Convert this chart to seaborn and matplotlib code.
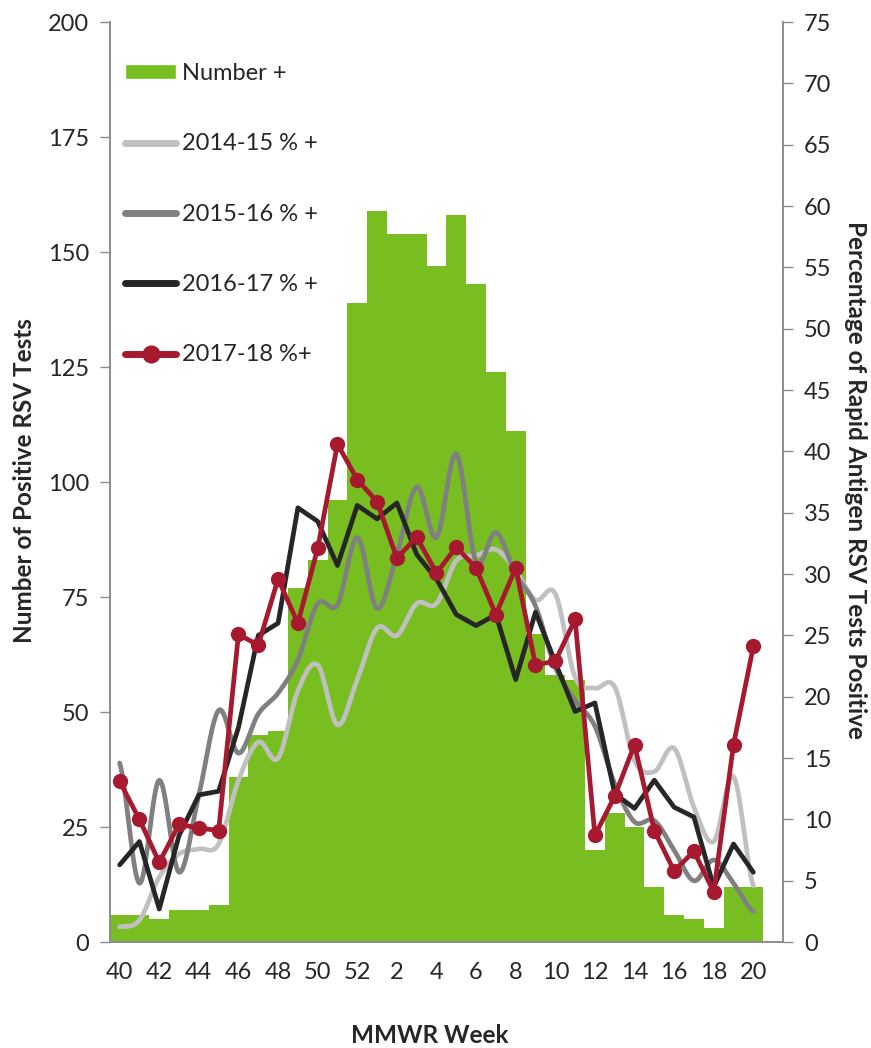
import numpy as np
import matplotlib
matplotlib.use("Agg")
import matplotlib.pyplot as plt
import matplotlib.patches as mpatches
from matplotlib.lines import Line2D
import seaborn as sns

# MMWR weeks 40-52, then 1-20
weeks = [str(w) for w in range(40, 53)] + [str(w) for w in range(1, 21)]

number_pos = [6, 6, 5, 7, 7, 8, 36, 45, 46, 77, 83, 96, 139,
              159, 154, 154, 147, 158, 143, 124, 111, 67, 58, 57, 20,
              28, 25, 12, 6, 5, 3, 12, 12]

pct_1415 = [1.25, 1.8, 5.3, 7.2, 7.6, 8.0, 13.2, 16.3, 15.0, 20.5, 22.6, 17.7, 21.4,
            25.6, 25.0, 27.6, 27.6, 31.1, 31.5, 32.0, 30.3, 27.9, 28.4, 21.6, 20.7,
            20.8, 14.8, 13.9, 15.8, 11.0, 8.2, 13.5, 4.6]

pct_1516 = [14.6, 4.8, 13.2, 5.7, 12.0, 18.9, 15.4, 18.6, 20.3, 23.0, 27.6, 27.5, 33.0,
            27.2, 31.6, 37.1, 33.0, 39.8, 31.0, 33.4, 30.0, 27.4, 22.4, 19.7, 17.6,
            12.9, 9.8, 9.9, 7.5, 5.0, 6.7, 4.8, 2.5]

pct_1617 = [6.3, 8.2, 2.7, 8.7, 12.0, 12.3, 17.5, 25.0, 26.0, 35.4, 34.3, 30.7, 35.6,
            34.5, 35.8, 31.6, 29.6, 26.7, 25.8, 26.7, 21.4, 26.9, 22.8, 18.8, 19.5,
            12.1, 10.9, 13.2, 11.0, 10.2, 4.5, 8.0, 5.7]

pct_1718 = [13.1, 10.0, 6.5, 9.6, 9.3, 9.1, 25.1, 24.2, 29.6, 26.0, 32.1, 40.6, 37.7,
            35.9, 31.3, 33.0, 30.1, 32.2, 30.5, 26.7, 30.5, 22.6, 22.9, 26.3, 8.7,
            11.9, 16.1, 9.1, 5.8, 7.4, 4.1, 16.1, 24.1]

GREEN = "#78BE21"
RED = "#A6192E"
BLACK = "#262626"
GRAY = "#808080"
LIGHT = "#C0C0C0"
AXIS = "#8C8C8C"


def smooth(y, n=16):
    """Catmull-Rom curve through the points (like Excel's smoothed line)."""
    y = np.asarray(y, dtype=float)
    x = np.arange(len(y), dtype=float)
    yp = np.concatenate([[y[0]], y, [y[-1]]])
    xp = np.concatenate([[x[0] - 1], x, [x[-1] + 1]])
    xs, ys = [], []
    t = np.linspace(0, 1, n, endpoint=False)
    for i in range(len(y) - 1):
        for arr, out in ((xp, xs), (yp, ys)):
            p0, p1, p2, p3 = arr[i], arr[i + 1], arr[i + 2], arr[i + 3]
            out.extend(0.5 * (2 * p1 + (-p0 + p2) * t
                              + (2 * p0 - 5 * p1 + 4 * p2 - p3) * t ** 2
                              + (-p0 + 3 * p1 - 3 * p2 + p3) * t ** 3))
    xs.append(x[-1])
    ys.append(y[-1])
    return np.array(xs), np.array(ys)


sns.set_style("white")
plt.rcParams["font.family"] = ["Lato", "DejaVu Sans"]

fig = plt.figure(figsize=(8.71, 10.48), dpi=100)
ax = fig.add_axes([0.126, 0.101, 0.773, 0.878])

pos = np.arange(len(weeks))
sns.barplot(x=pos, y=number_pos, native_scale=True, width=1.0,
            color=GREEN, saturation=1, linewidth=0, ax=ax)

ax2 = ax.twinx()
for vals, col in ((pct_1415, LIGHT), (pct_1516, GRAY), (pct_1617, BLACK)):
    if col == BLACK:
        xs, ys = pos, vals
    else:
        xs, ys = smooth(vals)
    sns.lineplot(x=xs, y=ys, color=col, linewidth=3.4, estimator=None,
                 sort=False, ax=ax2)
sns.lineplot(x=pos, y=pct_1718, color=RED, linewidth=3.4, marker="o",
             markersize=11, markeredgewidth=0, estimator=None, ax=ax2)

ax.set_xlim(-0.5, len(weeks) + 0.5)
ax.set_ylim(0, 200)
ax2.set_ylim(0, 75)
ax.set_yticks(np.arange(0, 201, 25))
ax2.set_yticks(np.arange(0, 76, 5))

ax.set_xticks(pos[::2])
ax.set_xticklabels(weeks[::2])
ax.set_xticks(np.arange(-0.5, len(weeks) + 1, 1), minor=True)
ax.tick_params(axis="x", which="major", length=0, labelsize=17, pad=14)
ax.tick_params(axis="x", which="minor", length=6, color=AXIS, width=1)
ax.tick_params(axis="y", length=7, color=AXIS, width=1, labelsize=17, pad=8)
ax2.tick_params(axis="y", length=7, color=AXIS, width=1, labelsize=17, pad=8)

for a in (ax, ax2):
    a.spines["top"].set_visible(False)
    for s in ("left", "right", "bottom"):
        a.spines[s].set_color(AXIS)
        a.spines[s].set_linewidth(1.2)

ax.set_xlabel("MMWR Week", fontsize=17.5, fontweight="bold", va="center")
ax.xaxis.set_label_coords(0.475, -0.101)
ax.set_ylabel("Number of Positive RSV Tests", fontsize=17.5, fontweight="bold")
ax.yaxis.set_label_coords(-0.110, 0.502)
ax2.set_ylabel("Percentage of Rapid Antigen RSV Tests Positive", fontsize=17.5,
               fontweight="bold", rotation=270, va="center")
ax2.yaxis.set_label_coords(1.107, 0.502)

handles = [
    mpatches.Patch(facecolor=GREEN, label="Number +"),
    Line2D([], [], color=LIGHT, lw=5, solid_capstyle="round", label="2014-15 % +"),
    Line2D([], [], color=GRAY, lw=5, solid_capstyle="round", label="2015-16 % +"),
    Line2D([], [], color=BLACK, lw=5, solid_capstyle="round", label="2016-17 % +"),
    Line2D([], [], color=RED, lw=5, marker="o", markersize=12,
           solid_capstyle="round", label="2017-18 %+"),
]
ax2.legend(handles=handles, loc="upper left", bbox_to_anchor=(0.143, 0.9398),
           bbox_transform=fig.transFigure, frameon=False, fontsize=17,
           labelspacing=2.09, handlelength=2.2, handletextpad=0.25,
           handleheight=0.6, numpoints=1, borderpad=0, borderaxespad=0)

fig.savefig("out.png", dpi=100)
